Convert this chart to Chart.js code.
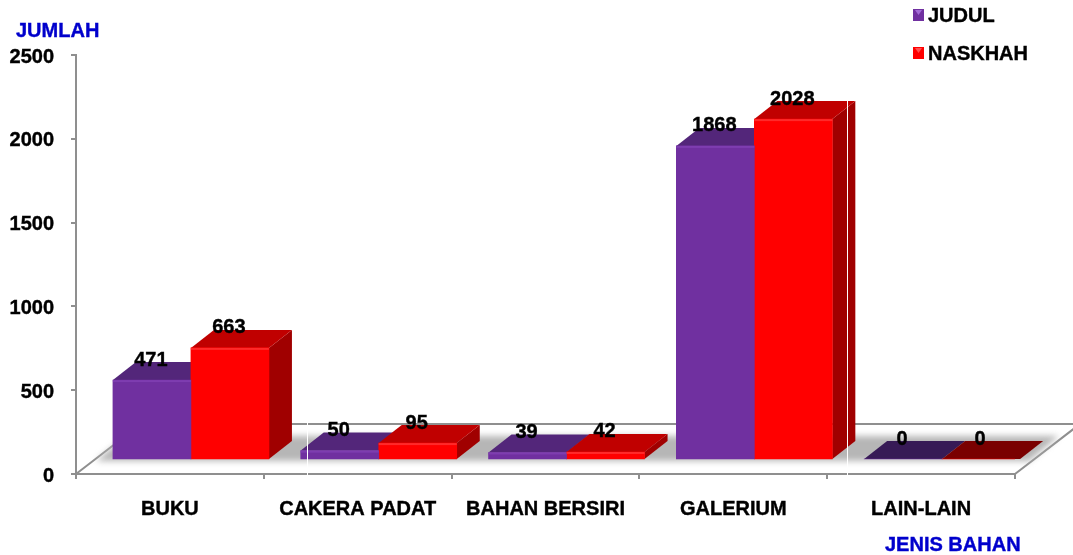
<!DOCTYPE html>
<html><head><meta charset="utf-8">
<style>html,body{margin:0;padding:0;background:#fff}#w{width:1073px;height:555px;position:relative}</style>
<script src="https://cdn.jsdelivr.net/npm/chart.js@4"></script>
</head><body><div id="w"><canvas id="c" width="1073" height="555"></canvas></div>
<script>
const categories = ["BUKU","CAKERA PADAT","BAHAN BERSIRI","GALERIUM","LAIN-LAIN"];
const judul = [471,50,39,1868,0];
const naskhah = [663,95,42,2028,0];
const yTicks = [0,500,1000,1500,2000,2500];
const seriesNames = ["JUDUL","NASKHAH"];
const yTitle = "JUMLAH";
const xTitle = "JENIS BAHAN";

const FONT = 'bold 20px "Liberation Sans", Arial, sans-serif';
const AXIS = '#8f8f8f';
const DEPTH = {x:23, y:18};
const FACE = [
  {front:'#7030A0', top:'#53267A', side:'#4A1F6E', flat:'#371A56', light:'#7E3DB0'},
  {front:'#FF0000', top:'#C00000', side:'#A00000', flat:'#7A0000', light:'#FF2A2A'}
];
function poly(ctx, pts, fill){
  ctx.beginPath();
  pts.forEach((p,i)=> i?ctx.lineTo(p[0],p[1]):ctx.moveTo(p[0],p[1]));
  ctx.closePath(); ctx.fillStyle=fill; ctx.fill();
}
function text(ctx,s,x,y){
  ctx.fillText(s,x,y);
  ctx.lineWidth=0.4; ctx.strokeStyle=ctx.fillStyle; ctx.strokeText(s,x,y);
}
const threeD = {
  id:'threeD',
  beforeDatasetsDraw(chart){
    const {ctx, chartArea:a} = chart;
    const y0 = a.bottom;
    ctx.save();
    ctx.beginPath(); ctx.rect(0,0,chart.width,chart.height); ctx.clip();
    ctx.strokeStyle=AXIS; ctx.lineWidth=2;
    ctx.beginPath();
    ctx.moveTo(a.left,y0); ctx.lineTo(a.left+65,y0-50); ctx.lineTo(a.right+65,y0-50); ctx.lineTo(a.right,y0);
    ctx.stroke();
    ctx.filter='blur(3px)';
    poly(ctx,[[a.left+20,y0-13],[a.right+14,y0-13],[a.right+44,y0-38],[a.left+50,y0-38]],'#b6b6b6');
    ctx.filter='none';
    ctx.restore();
    chart.data.datasets.forEach((ds,i)=>{
      const f = FACE[i];
      chart.getDatasetMeta(i).data.forEach((b,j)=>{
        const hw=b.width/2, l=b.x-hw, r=b.x+hw, t=b.y, btm=b.base;
        const dx=DEPTH.x, dy=DEPTH.y;
        const flat = ds.data[j].y===0;
        if(!flat) poly(ctx,[[r,t],[r+dx,t-dy],[r+dx,btm-dy],[r,btm]],f.side);
        poly(ctx,[[l,t],[l+dx,t-dy],[r+dx,t-dy],[r,t]],flat?f.flat:f.top);
      });
    });
  },
  afterDatasetsDraw(chart){
    const {ctx, chartArea:a} = chart;
    chart.data.datasets.forEach((ds,i)=>{
      chart.getDatasetMeta(i).data.forEach((b,j)=>{
        if(ds.data[j].y===0) return;
        ctx.fillStyle=FACE[i].light;
        ctx.fillRect(b.x-b.width/2,b.y,b.width,2);
      });
    });
    ctx.save();
    ctx.font=FONT; ctx.fillStyle='#000'; ctx.textAlign='center'; ctx.textBaseline='middle';
    chart.data.datasets.forEach((ds,i)=>{
      chart.getDatasetMeta(i).data.forEach((b,j)=>{
        text(ctx,String(ds.data[j].y), b.x-1, b.y-20);
      });
    });
    ctx.fillStyle='#fff';
    const xs=chart.scales.x;
    ctx.fillRect(xs.left+231,a.bottom-51,1,55);
    ctx.fillRect(xs.left+771,a.top+45,1,378);
    ctx.fillStyle='#0000CC'; ctx.textAlign='left';
    text(ctx,yTitle,16,31);
    text(ctx,xTitle,885,545);
    chart.data.datasets.forEach((ds,i)=>{
      const ly = i===0?15:53;
      ctx.fillStyle=FACE[i].front;
      ctx.fillRect(913,ly-6,11,12);
      poly(ctx,[[915,ly-5],[922,ly-5],[918.5,ly]],i===0?'#A36BD6':'#FF5050');
      ctx.fillStyle='#000';
      text(ctx,ds.label,928,ly+1);
    });
    ctx.restore();
  }
};
const tickFont = {family:'"Liberation Sans", Arial, sans-serif',size:20,weight:'bold'};
new Chart(document.getElementById('c'),{
  type:'bar',
  data:{
    labels:categories,
    datasets:[
      {label:seriesNames[0],data:judul.map((v,i)=>({x:i,y:v})),xAxisID:'x2',yAxisID:'y2',backgroundColor:FACE[0].front,borderWidth:0,barThickness:78},
      {label:seriesNames[1],data:naskhah.map((v,i)=>({x:i,y:v})),xAxisID:'x2',yAxisID:'y2',backgroundColor:FACE[1].front,borderWidth:0,barThickness:78}
    ]
  },
  options:{
    responsive:false,animation:false,
    layout:{padding:{left:0,top:55,right:58,bottom:0}},
    plugins:{legend:{display:false},tooltip:{enabled:false},title:{display:false}},
    scales:{
      x:{type:'category',offset:true,position:'bottom',
        grid:{offset:true,drawOnChartArea:false,drawTicks:true,tickLength:5,color:AXIS,lineWidth:2},
        border:{color:AXIS,width:2},
        ticks:{color:'#000',font:tickFont,padding:18,maxRotation:0,autoSkip:false,textStrokeColor:'#000',textStrokeWidth:0.4},
        afterFit(s){s.height=81;}},
      y:{type:'linear',position:'left',min:0,max:2500,
        afterBuildTicks(s){s.ticks=yTicks.map(v=>({value:v}));},
        grid:{drawOnChartArea:false,drawTicks:true,tickLength:5,color:AXIS,lineWidth:2},
        border:{color:AXIS,width:2},
        ticks:{color:'#000',font:tickFont,padding:17,labelOffset:2,callback:v=>String(v),textStrokeColor:'#000',textStrokeWidth:0.4},
        afterFit(s){s.width=76;}},
      x2:{type:'linear',display:false,offset:false,grid:{offset:false},min:-0.612,max:4.388},
      y2:{type:'linear',display:false,min:-89.5,max:2410.5}
    }
  },
  plugins:[threeD]
});
</script></body></html>
